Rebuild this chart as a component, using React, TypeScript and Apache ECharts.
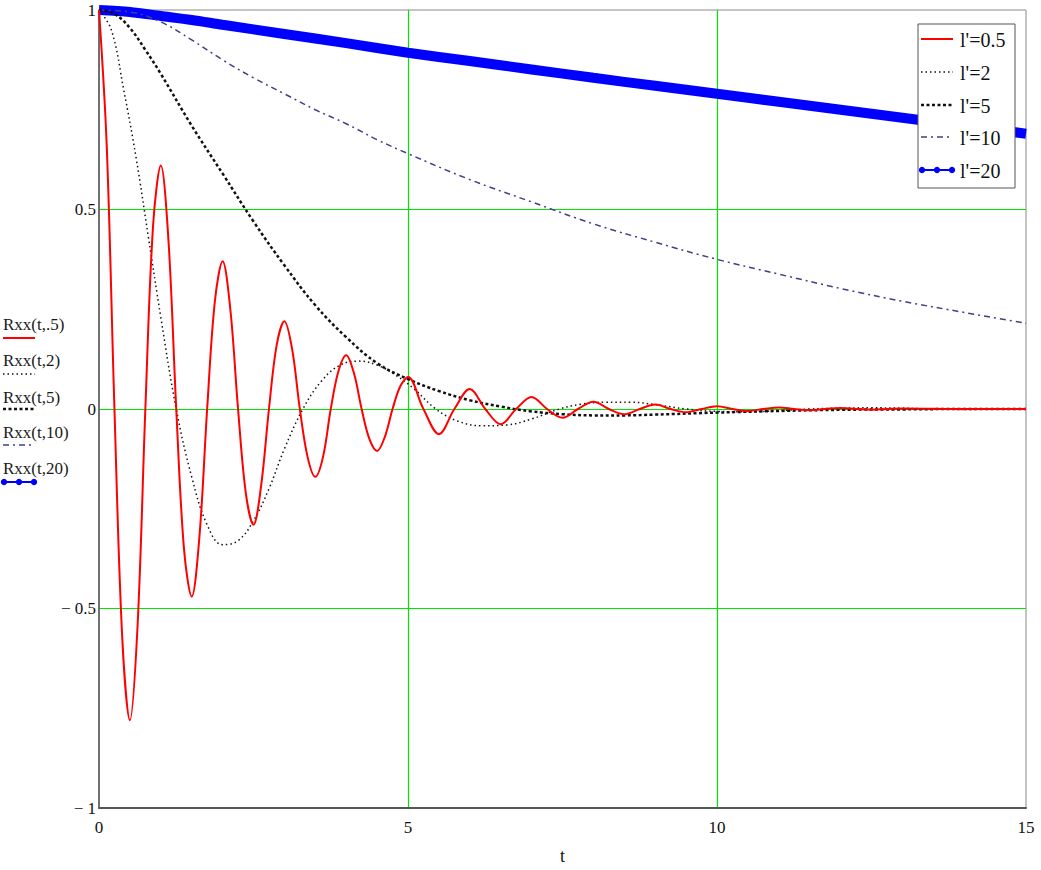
import React, { useEffect, useRef } from "react";
import * as echarts from "echarts";

// ---- data ----
const redT = [
  0, 0.125, 0.25, 0.375, 0.5, 0.625, 0.75, 0.875,
  1, 1.125, 1.25, 1.375, 1.5, 1.625, 1.75, 1.875,
  2, 2.125, 2.25, 2.375, 2.5, 2.625, 2.75, 2.875,
  3, 3.125, 3.25, 3.375, 3.5, 3.625, 3.75, 3.875,
  4, 4.125, 4.25, 4.375, 4.5, 4.625, 4.75, 4.875,
  5, 5.25, 5.5, 5.75, 6, 6.25, 6.5, 6.75, 7, 7.25, 7.5, 7.75,
  8, 8.25, 8.5, 8.75, 9, 9.25, 9.5, 9.75, 10, 10.25, 10.5, 10.75,
  11, 11.25, 11.5, 11.75, 12, 12.25, 12.5, 12.75, 13, 14, 15,
];
const redV = [
  1, 0.66, 0, -0.57, -0.78, -0.54, 0, 0.46,
  0.61, 0.42, 0, -0.35, -0.47, -0.32, 0, 0.27,
  0.37, 0.25, 0, -0.21, -0.29, -0.19, 0, 0.16,
  0.22, 0.15, 0, -0.12, -0.17, -0.12, 0, 0.095,
  0.135, 0.09, 0, -0.075, -0.105, -0.07, 0, 0.057,
  0.08, 0, -0.063, 0, 0.05, 0, -0.038, 0, 0.03, 0, -0.022, 0,
  0.018, 0, -0.013, 0, 0.011, 0, -0.008, 0, 0.007, 0, -0.005, 0,
  0.004, 0, -0.003, 0, 0.0025, 0, -0.002, 0, 0.0015, 0, 0,
];

const dotT = [
  0, 0.2, 0.4, 0.6, 0.8, 1.0, 1.25, 1.5, 1.75, 2.0, 2.25, 2.5, 2.75, 3.0, 3.3,
  3.6, 3.9, 4.2, 4.5, 4.8, 5.1, 5.45, 5.8, 6.2, 6.6, 7.0, 7.45, 7.8, 8.2, 8.6,
  9.0, 9.5, 10.0, 10.5, 11.0, 11.5, 12.0, 12.5, 13.0, 13.5, 14, 15,
];
const dotV = [
  1, 0.95, 0.8, 0.63, 0.43, 0.23, 0.0, -0.17, -0.29, -0.34, -0.33, -0.28, -0.2, -0.1, 0.0,
  0.07, 0.11, 0.12, 0.11, 0.085, 0.05, 0.0, -0.03, -0.042, -0.04, -0.025, 0.0, 0.012, 0.017, 0.017,
  0.011, 0.0, -0.006, -0.007, -0.004, 0.0, 0.002, 0.003, 0.002, 0, -0.001, 0,
];

const dashT = [0, 0.25, 0.5, 0.75, 1, 1.5, 2, 2.5, 3, 3.5, 4, 4.5, 5, 5.5, 6, 6.5, 7, 7.5, 8, 8.5, 9, 10, 11, 12, 13, 14, 15];
const dashV = [1, 0.99, 0.955, 0.9, 0.84, 0.71, 0.59, 0.47, 0.36, 0.26, 0.18, 0.115, 0.075, 0.045, 0.022, 0.006, -0.006, -0.013, -0.016, -0.016, -0.014, -0.009, -0.005, -0.002, -0.001, 0, 0];

const ddT = [0, 0.5, 1, 1.5, 2, 2.5, 3, 3.5, 4, 4.5, 5, 6, 7, 8, 9, 10, 11, 12, 13, 14, 15];
const ddV = [1, 0.995, 0.97, 0.925, 0.875, 0.83, 0.79, 0.75, 0.715, 0.675, 0.64, 0.575, 0.519, 0.464, 0.418, 0.375, 0.338, 0.302, 0.27, 0.242, 0.215];

const blueT = [0, 0.5, 1, 1.5, 2, 3, 4, 5, 6, 7, 8, 9, 10, 11, 12, 13, 14, 15];
const blueV = [1, 0.995, 0.985, 0.975, 0.963, 0.94, 0.917, 0.893, 0.872, 0.851, 0.83, 0.81, 0.79, 0.77, 0.75, 0.73, 0.71, 0.69];

const legendNames = ["l'=0.5", "l'=2", "l'=5", "l'=10", "l'=20"];
const traceNames = ["Rxx(t,.5)", "Rxx(t,2)", "Rxx(t,5)", "Rxx(t,10)", "Rxx(t,20)"];
const xTicks = [0, 5, 10, 15];
const yTicks = [-1, -0.5, 0, 0.5, 1];

const zip = (t: number[], v: number[]) => t.map((x, i) => [x, v[i]]);

const SERIF = "Liberation Serif";

const styles = [
  { color: "#ff0000", width: 2, dash: null as any },
  { color: "#111111", width: 1.5, dash: [1.5, 3] },
  { color: "#111111", width: 2.5, dash: [3, 2.5] },
  { color: "#404088", width: 1.5, dash: [6, 4, 2, 4] },
  { color: "#0000ff", width: 2, dash: null as any },
];

function sample(i: number, x1: number, x2: number, y: number): any[] {
  const s = styles[i];
  const els: any[] = [
    {
      type: "line",
      shape: { x1, y1: y, x2, y2: y },
      style: { stroke: s.color, lineWidth: s.width, lineDash: s.dash || undefined },
      z: 100,
    },
  ];
  if (i === 4) {
    const mid = (x1 + x2) / 2;
    [x1 + 1, mid, x2 - 1].forEach((cx) =>
      els.push({ type: "circle", shape: { cx, cy: y, r: 3.2 }, style: { fill: "#0000ff" }, z: 101 })
    );
  }
  return els;
}

export default function App() {
  const ref = useRef<HTMLDivElement>(null);
  useEffect(() => {
    if (!ref.current) return;
    const chart = echarts.init(ref.current, null, { renderer: "svg" });

    const graphics: any[] = [];
    const leftY = [324, 360, 397, 432, 468];
    const leftLineY = [338, 374, 409, 445, 482];
    traceNames.forEach((n, i) => {
      graphics.push({
        type: "text",
        x: 3,
        y: leftY[i],
        style: { text: n, font: `17px "${SERIF}"`, fill: "#1a1a1a", verticalAlign: "middle", align: "left" },
        z: 100,
      });
      graphics.push(...sample(i, 3, 35, leftLineY[i]));
    });
    graphics.push({
      type: "rect",
      shape: { x: 918, y: 24, width: 97, height: 164 },
      style: { fill: "#ffffff", stroke: "#555555", lineWidth: 1 },
      z: 99,
    });
    const rowY = [39, 72, 105, 137, 170];
    legendNames.forEach((n, i) => {
      graphics.push(...sample(i, 921, 953, rowY[i]));
      graphics.push({
        type: "text",
        x: 960,
        y: rowY[i] + 1,
        style: { text: n, font: `20px "${SERIF}"`, fill: "#111111", verticalAlign: "middle", align: "left" },
        z: 100,
      });
    });

    const mk = (name: string, i: number, data: number[][], extra: any = {}) => ({
      name,
      type: "line",
      data,
      showSymbol: false,
      symbol: "none",
      clip: true,
      lineStyle: {
        color: styles[i].color,
        width: styles[i].width,
        type: styles[i].dash || "solid",
      },
      itemStyle: { color: styles[i].color },
      ...extra,
    });

    const gridLine = { show: true, showMinLine: false, showMaxLine: false, lineStyle: { color: "#00e600", width: 1.2 } };

    chart.setOption({
      animation: false,
      backgroundColor: "#ffffff",
      textStyle: { fontFamily: SERIF },
      grid: {
        left: 99,
        right: 15,
        top: 10,
        bottom: 60,
        show: true,
        borderColor: "#8a8a8a",
        borderWidth: 1,
        backgroundColor: "#ffffff",
      },
      xAxis: {
        type: "value",
        min: xTicks[0],
        max: xTicks[xTicks.length - 1],
        interval: 5,
        name: "t",
        nameLocation: "middle",
        nameGap: 39,
        nameTextStyle: { fontFamily: SERIF, fontSize: 18, color: "#111" },
        axisLine: { show: true, onZero: false, lineStyle: { color: "#555", width: 2 } },
        axisTick: { show: false },
        axisLabel: { fontFamily: SERIF, fontSize: 17, color: "#111", margin: 11 },
        splitLine: gridLine,
      },
      yAxis: {
        type: "value",
        min: yTicks[0],
        max: yTicks[yTicks.length - 1],
        interval: 0.5,
        axisLine: { show: true, onZero: false, lineStyle: { color: "#555", width: 1.5 } },
        axisTick: { show: false },
        axisLabel: {
          fontFamily: SERIF,
          fontSize: 17,
          color: "#111",
          margin: 3,
          formatter: (v: number) => (v < 0 ? "\u2212 " + String(Math.abs(v)) : String(v)),
        },
        splitLine: gridLine,
      },
      series: [
        mk(legendNames[4], 4, zip(blueT, blueV), { lineStyle: { color: "#0000ff", width: 10 }, smooth: 0.3, z: 2 }),
        mk(legendNames[3], 3, zip(ddT, ddV), { smooth: 0.4, z: 3 }),
        mk(legendNames[2], 2, zip(dashT, dashV), { smooth: 0.4, z: 3 }),
        mk(legendNames[1], 1, zip(dotT, dotV), { smooth: 0.4, z: 3 }),
        mk(legendNames[0], 0, zip(redT, redV), { smooth: 0.35, z: 4 }),
      ],
      graphic: graphics,
    });
    return () => chart.dispose();
  }, []);
  return (
    <div
      ref={ref}
      style={{ position: "absolute", left: 0, top: 0, width: 1041, height: 870, background: "#fff" }}
    />
  );
}
